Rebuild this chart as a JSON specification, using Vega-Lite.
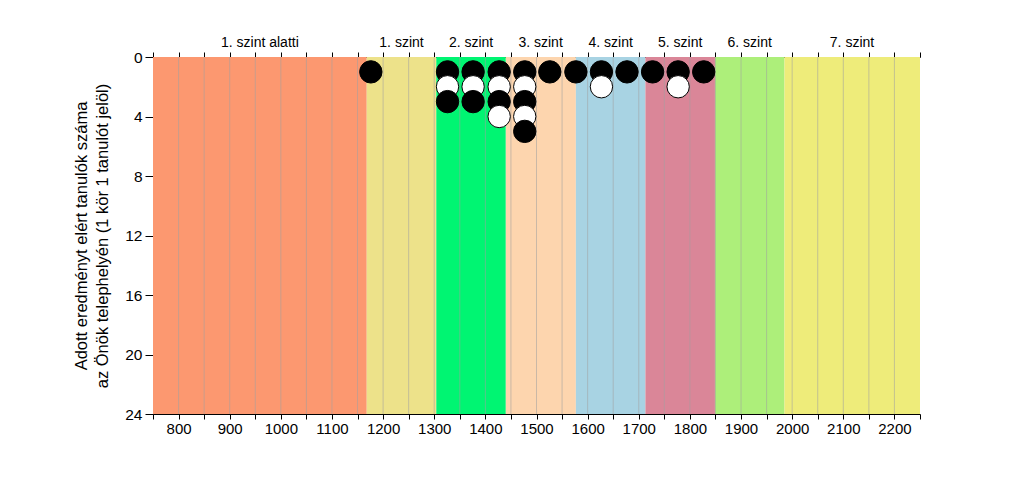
{
  "$schema": "https://vega.github.io/schema/vega-lite/v6.json",
  "width": 767,
  "height": 357,
  "autosize": {"type": "none"},
  "padding": {"left": 153, "top": 57, "right": 104, "bottom": 64},
  "background": "white",
  "config": {
    "view": {"stroke": null},
    "font": "Liberation Sans",
    "axis": {"labelFont": "Liberation Sans", "titleFont": "Liberation Sans", "labelColor": "black", "titleColor": "black", "domainColor": "black", "tickColor": "black", "domainWidth": 1, "tickWidth": 1}
  },
  "datasets": {
    "bands": [
      {"szint": "1. szint alatti", "start": 750, "end": 1168, "mid": 959},
      {"szint": "1. szint", "start": 1168, "end": 1304, "mid": 1236},
      {"szint": "2. szint", "start": 1304, "end": 1440, "mid": 1372},
      {"szint": "3. szint", "start": 1440, "end": 1577, "mid": 1508},
      {"szint": "4. szint", "start": 1577, "end": 1713, "mid": 1645},
      {"szint": "5. szint", "start": 1713, "end": 1849, "mid": 1781},
      {"szint": "6. szint", "start": 1849, "end": 1985, "mid": 1917},
      {"szint": "7. szint", "start": 1985, "end": 2250, "mid": 2117}
    ],
    "grid": [
      {"v": 800}, {"v": 850}, {"v": 900}, {"v": 950}, {"v": 1000}, {"v": 1050}, {"v": 1100}, {"v": 1150},
      {"v": 1200}, {"v": 1250}, {"v": 1300}, {"v": 1350}, {"v": 1400}, {"v": 1450}, {"v": 1500}, {"v": 1550},
      {"v": 1600}, {"v": 1650}, {"v": 1700}, {"v": 1750}, {"v": 1800}, {"v": 1850}, {"v": 1900}, {"v": 1950},
      {"v": 2000}, {"v": 2050}, {"v": 2100}, {"v": 2150}, {"v": 2200}
    ],
    "points": [
      {"score": 1176, "n": 1},
      {"score": 1326, "n": 1}, {"score": 1326, "n": 2}, {"score": 1326, "n": 3},
      {"score": 1376, "n": 1}, {"score": 1376, "n": 2}, {"score": 1376, "n": 3},
      {"score": 1427, "n": 1}, {"score": 1427, "n": 2}, {"score": 1427, "n": 3}, {"score": 1427, "n": 4},
      {"score": 1477, "n": 1}, {"score": 1477, "n": 2}, {"score": 1477, "n": 3}, {"score": 1477, "n": 4}, {"score": 1477, "n": 5},
      {"score": 1526, "n": 1},
      {"score": 1577, "n": 1},
      {"score": 1627, "n": 1}, {"score": 1627, "n": 2},
      {"score": 1677, "n": 1},
      {"score": 1727, "n": 1},
      {"score": 1777, "n": 1}, {"score": 1777, "n": 2},
      {"score": 1827, "n": 1}
    ]
  },
  "layer": [
    {
      "data": {"name": "bands"},
      "mark": {"type": "rect"},
      "encoding": {
        "x": {
          "field": "start", "type": "quantitative",
          "scale": {"domain": [750, 2250], "nice": false, "zero": false},
          "axis": {
            "orient": "bottom", "title": null, "grid": false,
            "values": [750, 800, 850, 900, 950, 1000, 1050, 1100, 1150, 1200, 1250, 1300, 1350, 1400, 1450, 1500, 1550, 1600, 1650, 1700, 1750, 1800, 1850, 1900, 1950, 2000, 2050, 2100, 2150, 2200, 2250],
            "format": "d",
            "labelExpr": "datum.value % 100 === 0 ? datum.label : ''",
            "labelFlush": false, "labelOverlap": false,
            "tickSize": 5, "labelFontSize": 15, "labelPadding": 2
          }
        },
        "x2": {"field": "end"},
        "y": {
          "datum": 0, "type": "quantitative",
          "scale": {"domain": [0, 24], "reverse": true, "nice": false, "zero": false},
          "axis": {
            "values": [0, 4, 8, 12, 16, 20, 24], "grid": false, "tickSize": 8,
            "labelFontSize": 15.5, "labelPadding": 3,
            "title": ["Adott eredményt elért tanulók száma", "az Önök telephelyén (1 kör 1 tanulót jelöl)"],
            "titleFontSize": 16.5, "titleFontWeight": "normal", "titlePadding": 14, "titleLineHeight": 21
          }
        },
        "y2": {"datum": 24},
        "color": {
          "field": "szint", "type": "nominal",
          "scale": {
            "domain": ["1. szint alatti", "1. szint", "2. szint", "3. szint", "4. szint", "5. szint", "6. szint", "7. szint"],
            "range": ["#FC9870", "#EDE28A", "#00F572", "#FDD5AE", "#A8D3E3", "#DA8698", "#ADEF7A", "#EEEC7A"]
          },
          "legend": null
        }
      }
    },
    {
      "data": {"name": "grid"},
      "mark": {"type": "rule", "color": "#A0A0A0", "opacity": 0.55, "strokeWidth": 1},
      "encoding": {
        "x": {
          "field": "v", "type": "quantitative",
          "axis": {
            "orient": "top", "title": null, "grid": false, "labels": false,
            "values": [750, 800, 850, 900, 950, 1000, 1050, 1100, 1150, 1200, 1250, 1300, 1350, 1400, 1450, 1500, 1550, 1600, 1650, 1700, 1750, 1800, 1850, 1900, 1950, 2000, 2050, 2100, 2150, 2200, 2250],
            "tickSize": 5
          }
        }
      }
    },
    {
      "data": {"name": "points"},
      "mark": {"type": "circle", "size": 500, "stroke": "black", "strokeWidth": 1, "opacity": 1},
      "encoding": {
        "x": {"field": "score", "type": "quantitative", "axis": null},
        "y": {"field": "n", "type": "quantitative"},
        "fill": {"condition": {"test": "datum.n % 2 === 1", "value": "black"}, "value": "white"}
      }
    },
    {
      "data": {"name": "bands"},
      "mark": {"type": "text", "fontSize": 14, "baseline": "middle", "align": "center", "color": "black"},
      "encoding": {
        "x": {"field": "mid", "type": "quantitative", "axis": null},
        "y": {"datum": -0.95, "type": "quantitative"},
        "text": {"field": "szint"}
      }
    }
  ],
  "resolve": {"axis": {"x": "independent"}}
}
